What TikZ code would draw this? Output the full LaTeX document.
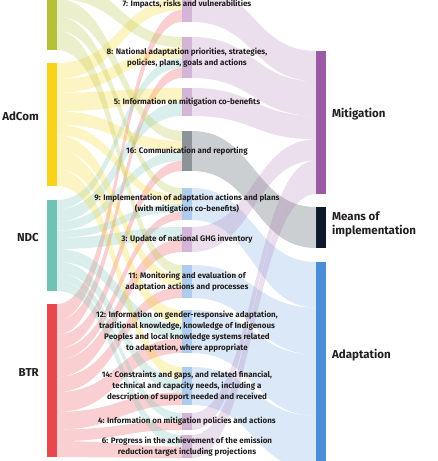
\documentclass[tikz,border=0pt]{standalone}
\usepackage{fontspec}
\setmainfont{Fira Sans}
\usetikzlibrary{positioning,calc}

\definecolor{napc}{HTML}{B5C136}
\definecolor{adcomc}{HTML}{F8D31B}
\definecolor{ndcc}{HTML}{70C3B4}
\definecolor{btrc}{HTML}{E8474F}
\definecolor{mitc}{HTML}{9A5AA5}
\definecolor{moic}{HTML}{0E1929}
\definecolor{adac}{HTML}{4A8ED8}
\definecolor{comc}{HTML}{8C9499}
\definecolor{inkc}{HTML}{231F20}
\colorlet{mitl}{mitc!45!white}
\colorlet{adal}{adac!45!white}

\tikzset{
	x=1pt, y=-1pt,
	bar/.style = {minimum width=10pt, inner sep=0pt, outer sep=0pt, anchor=north west},
	item/.style = {font=\fontsize{8}{11}\selectfont\bfseries, text=inkc, align=center, inner sep=0pt},
	side/.style = {font=\fontsize{11.5}{14}\selectfont\bfseries, text=inkc, align=left, inner sep=0pt},
	nap flow/.style = {fill=napc, fill opacity=0.26},
	adcom flow/.style = {fill=adcomc, fill opacity=0.26},
	ndc flow/.style = {fill=ndcc, fill opacity=0.26},
	btr flow/.style = {fill=btrc, fill opacity=0.26},
	mit flow/.style = {fill=mitc, fill opacity=0.2},
	moi flow/.style = {fill=comc, fill opacity=0.45},
	ada flow/.style = {fill=adac, fill opacity=0.2},
}

\newcommand\ribbon[6]{%
	\fill[#1] (#2) .. controls (#2 -| #6) and (#4 -| #6) .. (#4) -- (#5)
		.. controls (#5 -| #6) and (#3 -| #6) .. (#3) -- cycle;}

\newcommand\flows[3]{%
	\foreach \src/\dst/\wt in {#1}{
		\pgfmathsetmacro\tmp{\csname sl\src\endcsname+\wt}
		\expandafter\xdef\csname sl\src\endcsname{\tmp}
		\pgfmathsetmacro\tmp{\csname sr\dst\endcsname+\wt}
		\expandafter\xdef\csname sr\dst\endcsname{\tmp}
	}
	\foreach \src/\dst/\wt in {#1}{
		\edef\la{\csname ol\src\endcsname}
		\edef\len{\csname len\src\endcsname}
		\edef\tot{\csname sl\src\endcsname}
		\pgfmathsetmacro\lb{\la+\wt*\len/\tot}
		\expandafter\xdef\csname ol\src\endcsname{\lb}
		\edef\ra{\csname or\dst\endcsname}
		\edef\len{\csname len\dst\endcsname}
		\edef\tot{\csname sr\dst\endcsname}
		\pgfmathsetmacro\rb{\ra+\wt*\len/\tot}
		\expandafter\xdef\csname or\dst\endcsname{\rb}
		\coordinate (a) at ($(\src.north east)+(0,\la)$);
		\coordinate (b) at ($(\src.north east)+(0,\lb)$);
		\coordinate (c) at ($(\dst.north west)+(0,\ra)$);
		\coordinate (d) at ($(\dst.north west)+(0,\rb)$);
		\ribbon{#2}{a}{b}{c}{d}{#3}
	}
}

\begin{document}
\begin{tikzpicture}
\useasboundingbox (0,0) rectangle (437,461);
\clip (0,0) rectangle (437,461);

\foreach \n/\t/\b/\c/\x in {nap/-40/50/napc/47, adcom/63/186/adcomc/47,
		ndc/200/291/ndcc/47, btr/304/457/btrc/47,
		m7/-14/22/mitl/182, m8/37/78/mitl/182, m5/88/116/mitl/182,
		m16/131/171/comc/182, m9/188/220/adal/182, m3/227/252/mitl/182,
		m11/265/298/adal/182, m12/310/353/adal/182, m14/367/405/adal/182,
		m4/413/430/mitl/182, m6/435/458/mitl/182,
		mit/51/194/mitc/316, moi/207/248/moic/316, ada/262/470/adac/316}{
	\pgfmathsetmacro\h{\b-\t}
	\expandafter\xdef\csname len\n\endcsname{\h}
	\expandafter\xdef\csname sl\n\endcsname{0}
	\expandafter\xdef\csname sr\n\endcsname{0}
	\expandafter\xdef\csname ol\n\endcsname{0}
	\expandafter\xdef\csname or\n\endcsname{0}
	\node[bar, fill=\c, minimum height=\h pt] (\n) at (\x,\t) {};
}
\coordinate (lm) at (119.5,0);
\coordinate (rm) at (254,0);

\flows{nap/m7/12, adcom/m7/12, btr/m7/12,
	nap/m8/10.25, adcom/m8/10.25, ndc/m8/10.25, btr/m8/10.25,
	adcom/m5/14, ndc/m5/14,
	nap/m16/10, adcom/m16/10, ndc/m16/10, btr/m16/10,
	nap/m9/8, adcom/m9/8, ndc/m9/8, btr/m9/8,
	ndc/m3/12.5, btr/m3/12.5,
	nap/m11/11, adcom/m11/11, btr/m11/11,
	adcom/m12/14.3, ndc/m12/14.3, btr/m12/14.3,
	adcom/m14/12.7, ndc/m14/12.7, btr/m14/12.7,
	ndc/m4/8.5, btr/m4/8.5,
	ndc/m6/11.5, btr/m6/11.5}{\src\space flow}{lm}
\flows{m7/mit/36, m8/mit/41, m5/mit/28, m16/moi/40, m9/ada/32, m3/mit/25,
	m11/ada/33, m12/ada/43, m14/ada/38, m4/mit/17, m6/mit/23}{\dst\space flow}{rm}

\foreach \n/\txt in {m7/{7: Impacts, risks and vulnerabilities},
		m8/{8: National adaptation priorities, strategies,\\policies, plans, goals and actions},
		m5/{5: Information on mitigation co-benefits},
		m16/{16: Communication and reporting},
		m9/{9: Implementation of adaptation actions and plans\\(with mitigation co-benefits)},
		m3/{3: Update of national GHG inventory},
		m11/{11: Monitoring and evaluation of\\adaptation actions and processes},
		m12/{12: Information on gender-responsive adaptation,\\traditional knowledge, knowledge of Indigenous\\Peoples and local knowledge systems related\\to adaptation, where appropriate},
		m14/{14: Constraints and gaps, and related financial,\\technical and capacity needs, including a\\description of support needed and received},
		m4/{4: Information on mitigation policies and actions},
		m6/{6: Progress in the achievement of the emission\\reduction target including projections}}
	\node[item] (t\n) at (\n) {\txt};

\node[side, left=8pt of nap, yshift=8pt] (napl) {NAP};
\node[side, left=8pt of adcom, yshift=8pt] (adcoml) {AdCom};
\node[side, left=8pt of ndc, yshift=8pt] (ndcl) {NDC};
\node[side, left=8pt of btr, yshift=8pt] (btrl) {BTR};
\node[side, right=6pt of mit, yshift=8.5pt] (mitl) {Mitigation};
\node[side, right=6pt of moi, yshift=3.5pt] (moil) {Means of\\implementation};
\node[side, right=6pt of ada, yshift=11pt] (adal) {Adaptation};
\end{tikzpicture}
\end{document}
